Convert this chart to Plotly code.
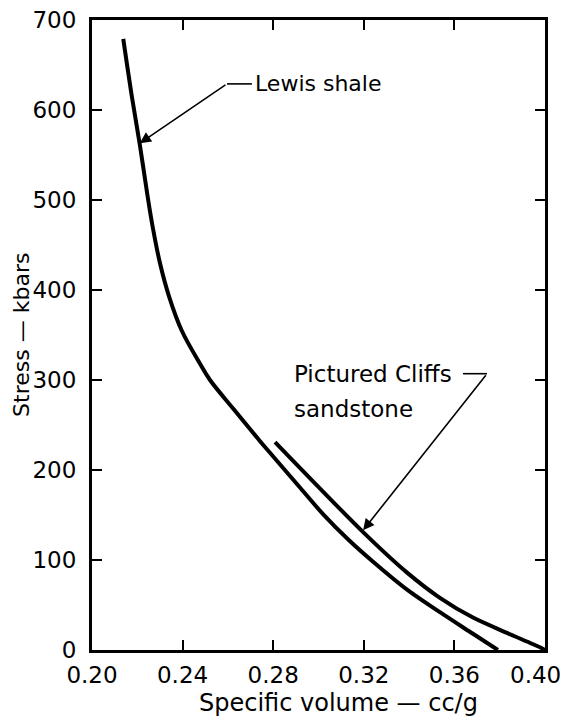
import plotly.graph_objects as go

# Lewis shale curve (specific volume cc/g, stress kbars)
lewis_x = [0.2138, 0.2176, 0.2212, 0.2245, 0.2268, 0.2300, 0.2340, 0.2396, 0.2477, 0.2521,
           0.2624, 0.2742, 0.2800, 0.2920, 0.3020, 0.3130, 0.3241, 0.3391, 0.3536, 0.3682, 0.3792]
lewis_y = [679, 615, 560, 505, 470, 430, 393, 355, 318, 300,
           268, 232, 215, 180, 151, 123, 98, 67, 42, 18, 0]

# Pictured Cliffs sandstone curve
pc_x = [0.2808, 0.3197, 0.3391, 0.3536, 0.3682, 0.3832, 0.3978, 0.4000]
pc_y = [231, 131, 86, 58, 36, 19, 3, 0]

x_ticks = [0.20, 0.24, 0.28, 0.32, 0.36, 0.40]
x_tick_labels = ["0.20", "0.24", "0.28", "0.32", "0.36", "0.40"]
y_ticks = [0, 100, 200, 300, 400, 500, 600, 700]

FONT = "DejaVu Sans"

fig = go.Figure()
fig.add_trace(go.Scatter(x=lewis_x, y=lewis_y, mode="lines",
                         line=dict(color="black", width=4, shape="spline", smoothing=1.0),
                         name="Lewis shale", showlegend=False, hoverinfo="skip"))
fig.add_trace(go.Scatter(x=pc_x, y=pc_y, mode="lines",
                         line=dict(color="black", width=4, shape="spline", smoothing=0.8),
                         name="Pictured Cliffs sandstone", showlegend=False, hoverinfo="skip"))

# Leader arrows (tip, bend) and horizontal segments
fig.add_annotation(x=0.2211, y=563, ax=0.2596, ay=629, axref="x", ayref="y", xref="x", yref="y",
                   text="", showarrow=True, arrowhead=2, arrowsize=1.4, arrowwidth=1.6, arrowcolor="black")
fig.add_shape(type="line", x0=0.2596, y0=629, x1=0.2706, y1=629, line=dict(color="black", width=1.6))
fig.add_annotation(x=0.2711, y=629, xref="x", yref="y", text="Lewis shale", showarrow=False,
                   xanchor="left", yanchor="middle", font=dict(family=FONT, size=22, color="black"))

fig.add_annotation(x=0.3197, y=133, ax=0.3744, ay=307, axref="x", ayref="y", xref="x", yref="y",
                   text="", showarrow=True, arrowhead=2, arrowsize=1.4, arrowwidth=1.6, arrowcolor="black")
fig.add_shape(type="line", x0=0.3638, y0=307, x1=0.3744, y1=307, line=dict(color="black", width=1.6))
fig.add_annotation(x=0.2883, y=307, xref="x", yref="y", text="Pictured Cliffs", showarrow=False,
                   xanchor="left", yanchor="middle", font=dict(family=FONT, size=23, color="black"))
fig.add_annotation(x=0.2883, y=268, xref="x", yref="y", text="sandstone", showarrow=False,
                   xanchor="left", yanchor="middle", font=dict(family=FONT, size=23, color="black"))

# Axis titles
fig.add_annotation(x=0.545, y=-0.084, xref="paper", yref="paper", text="Specific volume — cc/g", showarrow=False,
                   xanchor="center", yanchor="middle", font=dict(family=FONT, size=24, color="black"))
fig.add_annotation(x=-0.157, y=0.5, xref="paper", yref="paper", text="Stress — kbars", showarrow=False,
                   textangle=-90, xanchor="center", yanchor="middle", font=dict(family=FONT, size=22, color="black"))

# last x tick label sits left of its tick (as in the original) so it stays on the page
fig.add_annotation(x=x_ticks[-1], y=0, xref="x", yref="paper", text=x_tick_labels[-1], showarrow=False,
                   xanchor="right", yanchor="top", xshift=18, yshift=-10,
                   font=dict(family=FONT, size=23, color="black"))

fig.update_xaxes(range=[0.20, 0.40], tickvals=x_ticks, ticktext=x_tick_labels[:-1] + [""], ticks="inside",
                 ticklen=10, tickwidth=2,
                 tickcolor="black", showline=True, linecolor="black", linewidth=3, mirror="ticks", showgrid=False,
                 zeroline=False, tickfont=dict(family=FONT, size=23, color="black"), ticklabelstandoff=2,
                 automargin=False)
fig.update_yaxes(range=[0, 700], tickvals=y_ticks, ticks="inside", ticklen=10, tickwidth=2,
                 tickcolor="black", showline=True, linecolor="black", linewidth=3, mirror="ticks", showgrid=False,
                 zeroline=False, tickfont=dict(family=FONT, size=23, color="black"), ticklabelstandoff=8,
                 ticklabeloverflow="allow", automargin=False)

# page body adds an 8px offset; the figure is sized to fit the 568x717 window
fig.update_layout(width=560, height=709, margin=dict(l=84, r=23, t=12, b=67, autoexpand=False),
                  paper_bgcolor="white", plot_bgcolor="white", showlegend=False)

fig.write_html("out.html")
